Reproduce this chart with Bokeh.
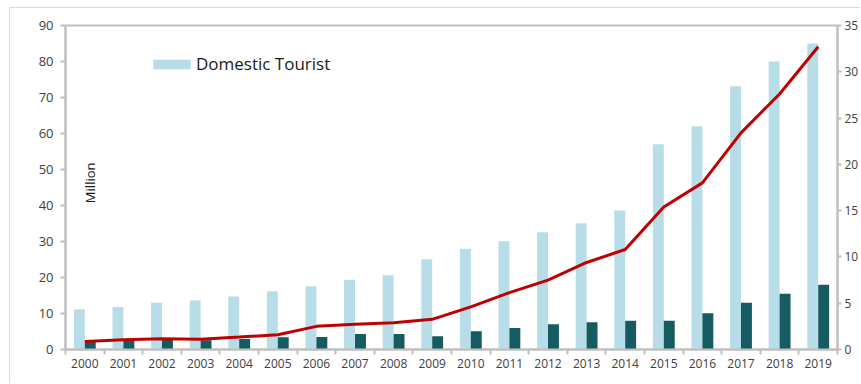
import numpy as np
from bokeh.plotting import figure
from bokeh.models import (Range1d, LinearAxis, FixedTicker, Legend, LegendItem,
                          Label, ColumnDataSource)
from bokeh.transform import dodge
from bokeh.embed import file_html
from bokeh.resources import INLINE

# ---- data ----
years = [str(y) for y in range(2000, 2020)]
domestic = [11.2, 11.8, 13.0, 13.6, 14.7, 16.2, 17.6, 19.4, 20.6, 25.1,
            28.0, 30.1, 32.6, 35.1, 38.6, 57.0, 62.0, 73.1, 80.0, 85.0]
foreign = [2.3, 2.4, 2.7, 2.6, 2.9, 3.4, 3.5, 4.3, 4.3, 3.7,
           5.1, 6.0, 7.0, 7.6, 8.0, 8.0, 10.1, 13.0, 15.5, 18.0]
line_vals = [0.87, 1.05, 1.16, 1.12, 1.34, 1.6, 2.5, 2.72, 2.9, 3.26,
             4.6, 6.15, 7.5, 9.4, 10.8, 15.4, 18.0, 23.4, 27.6, 32.7]
left_ticks = [0, 10, 20, 30, 40, 50, 60, 70, 80, 90]
right_ticks = [0, 5, 10, 15, 20, 25, 30, 35]

idx = list(range(len(years)))
src = ColumnDataSource(dict(x=idx, dom=domestic, frn=foreign, ln=line_vals))

FONT = "Open Sans"
AXIS_COL = "#bfbfbf"
TXT_COL = "#404040"

p = figure(width=851, height=376, output_backend="svg", toolbar_location=None,
           x_range=Range1d(-0.5, len(years) - 0.5), y_range=Range1d(0, 90),
           min_border_left=55, min_border_top=17, min_border_right=0,
           min_border_bottom=35, margin=(7, 0, 0, 9),
           styles={"border-left": "1px solid #d9d9d9", "border-top": "1px solid #d9d9d9"})
p.extra_y_ranges = {"right": Range1d(0, 35)}
p.xgrid.visible = False
p.ygrid.visible = False
p.outline_line_color = AXIS_COL
p.outline_line_width = 2
p.background_fill_color = "white"
p.border_fill_color = "white"

bw = 0.283
light = p.vbar(x=dodge("x", -bw / 2), top="dom", width=bw, source=src,
               fill_color="#b7dde8", line_color=None)
dark = p.vbar(x=dodge("x", bw / 2), top="frn", width=bw, source=src,
              fill_color="#165b61", line_color=None)
p.line(x="x", y="ln", source=src, y_range_name="right",
       line_color="#c00000", line_width=3)

# x axis: labels at centers, ticks between categories
xa = p.xaxis[0]
xa.ticker = FixedTicker(ticks=idx, minor_ticks=[i - 0.5 for i in idx] + [len(idx) - 0.5])
xa.major_label_overrides = {i: y for i, y in zip(idx, years)}
xa.major_tick_out = 0
xa.major_tick_in = 0
xa.minor_tick_out = 5
xa.minor_tick_in = 0
xa.minor_tick_line_color = AXIS_COL
xa.minor_tick_line_width = 2
xa.axis_line_color = AXIS_COL
xa.axis_line_width = 2
xa.major_label_standoff = 4
xa.major_label_text_font = FONT
xa.major_label_text_font_size = "12px"
xa.major_label_text_color = TXT_COL

ya = p.yaxis[0]
ya.ticker = FixedTicker(ticks=left_ticks)
ya.major_tick_out = 5
ya.major_tick_in = 0
ya.minor_tick_line_color = None
ya.major_tick_line_color = AXIS_COL
ya.major_tick_line_width = 2
ya.axis_line_color = AXIS_COL
ya.axis_line_width = 2
ya.major_label_standoff = 7
ya.major_label_text_font = FONT
ya.major_label_text_font_size = "13px"
ya.major_label_text_color = TXT_COL

ra = LinearAxis(y_range_name="right", ticker=FixedTicker(ticks=right_ticks))
ra.major_label_standoff = 3
ra.major_tick_out = 4
ra.major_tick_in = 0
ra.minor_tick_line_color = None
ra.major_tick_line_color = AXIS_COL
ra.major_tick_line_width = 2
ra.axis_line_color = AXIS_COL
ra.axis_line_width = 2
ra.major_label_text_font = FONT
ra.major_label_text_font_size = "12px"
ra.major_label_text_color = TXT_COL
p.add_layout(ra, "right")

legend = Legend(items=[LegendItem(label="Domestic Tourist", renderers=[light])],
                location=(83, 274), padding=0, margin=0, spacing=0,
                glyph_width=47, glyph_height=12, label_standoff=1,
                label_height=10, border_line_color=None,
                background_fill_alpha=0, label_text_font=FONT,
                label_text_font_size="17px", label_text_color="#1a1a1a")
p.add_layout(legend)

p.add_layout(Label(x=0.14, y=46.3, text="Million", angle=np.pi / 2,
                   text_align="center", text_baseline="middle",
                   text_font=FONT, text_font_size="13px", text_color="#1a1a1a"))

open("out.html", "w").write(file_html(p, INLINE))
